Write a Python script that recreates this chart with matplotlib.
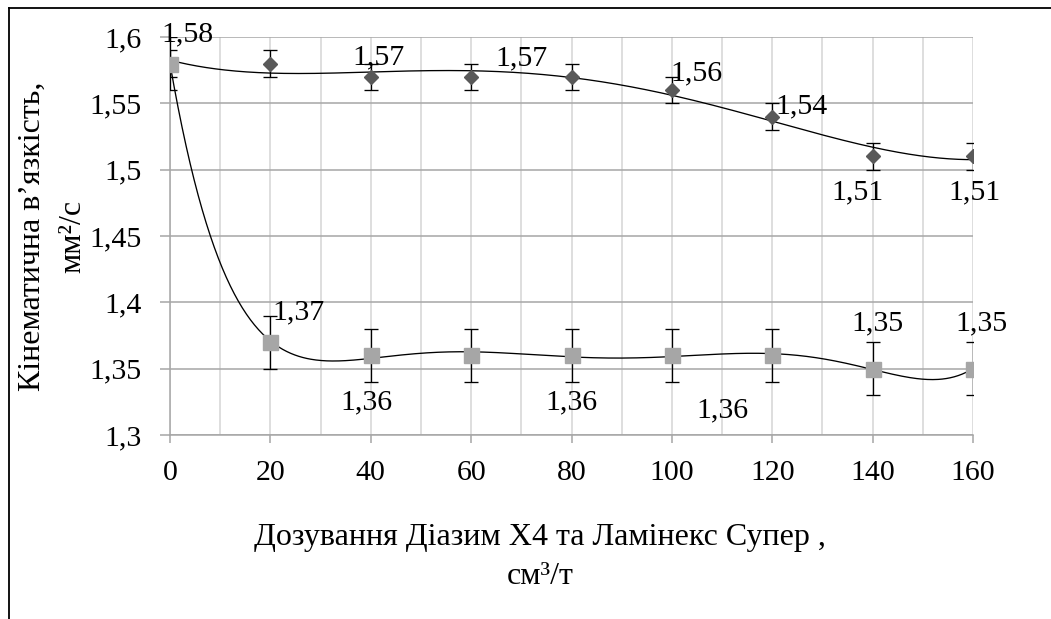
import numpy as np
import matplotlib
matplotlib.use("Agg")
import matplotlib.pyplot as plt
from matplotlib.lines import Line2D

# ---------------- data ----------------
dose = [0, 20, 40, 60, 80, 100, 120, 140, 160]
visc_diamond = [1.58, 1.58, 1.57, 1.57, 1.57, 1.56, 1.54, 1.51, 1.51]
visc_square = [1.58, 1.37, 1.36, 1.36, 1.36, 1.36, 1.36, 1.35, 1.35]
err_diamond = 0.01
err_square = 0.02
trend_order_diamond = 4
trend_order_square = 6

x_ticks = [0, 20, 40, 60, 80, 100, 120, 140, 160]
x_minor = [10, 30, 50, 70, 90, 110, 130, 150]
y_ticks = [1.3, 1.35, 1.4, 1.45, 1.5, 1.55, 1.6]
y_tick_labels = ["1,3", "1,35", "1,4", "1,45", "1,5", "1,55", "1,6"]

x_title = "Дозування Діазим Х4 та Ламінекс Супер ,"
x_title2 = "см³/т"
y_title = "Кінематична в’язкість,"
y_title2 = "мм²/с"

# label placements: (series, index, dx_px, dy_px)  (dy positive = down)
label_pos = [
    ("sq", 0, 17, -29), ("sq", 1, 28, -30), ("sq", 2, -4, 47), ("sq", 4, 0, 47),
    ("sq", 5, 51, 55), ("sq", 7, 5, -45), ("sq", 8, 8, -45),
    ("di", 2, 8, -19), ("di", 3, 50, -18), ("di", 5, 25, -17), ("di", 6, 29, -10),
    ("di", 7, -15, 36), ("di", 8, 1, 36),
]

# ---------------- style ----------------
W, H = 1051, 619
FONT = "Liberation Serif"
plt.rcParams["font.family"] = [FONT, "DejaVu Serif"]
TICK_FS = 21.5
TITLE_FS = 23
C_DIAMOND = "#595959"
C_SQUARE = "#a6a6a6"
C_HGRID = "#a6a6a6"
C_VGRID = "#d4d4d4"

fig = plt.figure(figsize=(W / 100, H / 100), dpi=100)
L, R, T, B = 170, 973, 37, 435
ax = fig.add_axes([L / W, 1 - B / H, (R - L) / W, (B - T) / H])
ax.set_xlim(0, 160)
ax.set_ylim(1.3, 1.6)

# grid
ax.set_xticks(x_ticks)
ax.set_xticks(x_minor, minor=True)
ax.set_yticks(y_ticks)
ax.set_yticklabels(y_tick_labels)
ax.set_xticklabels([str(v) for v in x_ticks])
ax.grid(True, axis="x", which="both", color=C_VGRID, lw=1.1, zorder=0)
ax.grid(True, axis="y", which="major", color=C_HGRID, lw=1.1, zorder=0)
ax.set_axisbelow(True)
for s in ["top", "right"]:
    ax.spines[s].set_visible(False)
for s in ["left", "bottom"]:
    ax.spines[s].set_color(C_HGRID)
    ax.spines[s].set_linewidth(1.1)
ax.tick_params(axis="x", which="major", length=6, width=1.1, color=C_HGRID,
               labelsize=TICK_FS, pad=12)
ax.tick_params(axis="x", which="minor", length=0)
ax.tick_params(axis="y", which="major", length=7.5, width=1.1, color=C_HGRID,
               labelsize=TICK_FS, pad=13)

# trendlines (polynomial least squares)
xs = np.linspace(0, 160, 600)
for vals, order in [(visc_diamond, trend_order_diamond), (visc_square, trend_order_square)]:
    p = np.polynomial.Polynomial.fit(dose, vals, order)
    ax.plot(xs, p(xs), color="black", lw=0.95, zorder=3)

# error bars + markers
ax.errorbar(dose, visc_diamond, yerr=err_diamond, fmt="none", ecolor="black",
            elinewidth=0.95, capsize=4.7, capthick=0.95, zorder=4)
ax.errorbar(dose, visc_square, yerr=err_square, fmt="none", ecolor="black",
            elinewidth=0.95, capsize=4.7, capthick=0.95, zorder=4)
ax.plot(dose, visc_diamond, ls="none", marker="D", ms=7.6, color=C_DIAMOND,
        mec=C_DIAMOND, zorder=5)
ax.plot(dose, visc_square, ls="none", marker="s", ms=10.8, color=C_SQUARE,
        mec=C_SQUARE, zorder=6)

# data labels
px2pt = 0.72
for ser, i, dx, dy in label_pos:
    vals = visc_square if ser == "sq" else visc_diamond
    txt = f"{vals[i]:.2f}".replace(".", ",")
    ax.annotate(txt, (dose[i], vals[i]), xytext=(dx * px2pt, -dy * px2pt),
                textcoords="offset points", ha="center", va="center",
                fontsize=TICK_FS, color="black", zorder=7)

# axis titles
fig.text(540 / W, 1 - 538 / H, x_title, ha="center", va="center", fontsize=TITLE_FS)
fig.text(540 / W, 1 - 576 / H, x_title2, ha="center", va="center", fontsize=TITLE_FS)
fig.text(32 / W, 1 - 236 / H, y_title, ha="center", va="center", rotation=90,
         fontsize=TITLE_FS)
fig.text(73 / W, 1 - 236 / H, y_title2, ha="center", va="center", rotation=90,
         fontsize=TITLE_FS)

# chart frame (top and left edges visible)
fig.add_artist(Line2D([9 / W, 1.0], [1 - 8 / H, 1 - 8 / H], color="black", lw=1.3,
                      transform=fig.transFigure))
fig.add_artist(Line2D([9 / W, 9 / W], [1 - 8 / H, 0], color="black", lw=1.3,
                      transform=fig.transFigure))

fig.savefig("out.png", dpi=100)
